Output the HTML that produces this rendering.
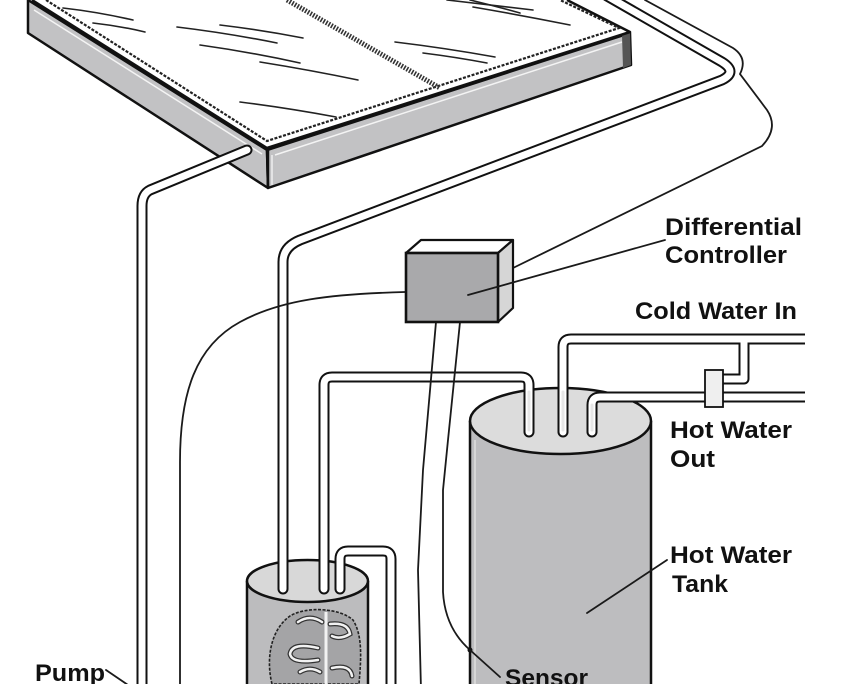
<!DOCTYPE html>
<html>
<head>
<meta charset="utf-8">
<style>
  html, body { margin: 0; padding: 0; background: #ffffff; }
  svg { display: block; }
  text { font-family: "Liberation Sans", Arial, sans-serif; font-weight: bold; fill: #111; }
</style>
</head>
<body>
<svg width="845" height="684" viewBox="0 0 845 684" xmlns="http://www.w3.org/2000/svg">
  <rect x="0" y="0" width="845" height="684" fill="#ffffff"/>

  <!-- ===== Collector panel ===== -->
  <path d="M32,0 L267,148 L630,32 L567,0 Z" fill="#ffffff" stroke="none"/>
  <path d="M28,0 L267,150 L268,188 L28,33 Z" fill="#c2c2c4" stroke="#111" stroke-width="2.5" stroke-linejoin="round"/>
  <line x1="34" y1="10" x2="262" y2="154" stroke="#f4f4f4" stroke-width="1.5"/>
  <path d="M267,150 L630,33 L631,65 L268,188 Z" fill="#c2c2c4" stroke="#111" stroke-width="2.5" stroke-linejoin="round"/>
  <line x1="275" y1="155" x2="622" y2="42" stroke="#f4f4f4" stroke-width="1.5"/>
  <path d="M622,35 L630,32 L631,65 L623,68 Z" fill="#555"/>
  <line x1="268" y1="150" x2="268" y2="188" stroke="#111" stroke-width="2.5"/>
  <line x1="272" y1="155" x2="272" y2="185" stroke="#eee" stroke-width="1.5"/>
  <path d="M32,0 L267,148 L630,32 L567,0" fill="none" stroke="#111" stroke-width="2.5" stroke-linejoin="round"/>
  <path d="M46,0 L267,141 L619,28 L560,0" fill="none" stroke="#222" stroke-width="2.2" stroke-dasharray="3 1.5"/>
  <line x1="287" y1="0" x2="440" y2="88" stroke="#333" stroke-width="5" stroke-dasharray="1.6 1.4"/>
  <g stroke="#222" stroke-width="1.6" fill="none" stroke-linecap="round">
    <path d="M63,8 Q98,12 133,20"/>
    <path d="M93,23 Q120,26 145,32"/>
    <path d="M177,27 Q227,33 277,43"/>
    <path d="M220,25 Q262,30 303,38"/>
    <path d="M200,45 Q250,52 300,63"/>
    <path d="M260,62 Q310,70 358,80"/>
    <path d="M240,102 Q288,108 336,117"/>
    <path d="M395,42 Q445,48 495,57"/>
    <path d="M423,53 Q455,57 487,63"/>
    <path d="M447,0 Q490,5 533,10"/>
    <path d="M473,7 Q520,15 570,25"/>
    <path d="M470,0 Q495,6 520,13"/>
  </g>

  <!-- ===== Large hot water tank ===== -->
  <path d="M470,421 L470,684 L651,684 L651,421 Z" fill="#bdbdbf" stroke="none"/>
  <line x1="470" y1="421" x2="470" y2="684" stroke="#111" stroke-width="2.5"/>
  <line x1="651" y1="421" x2="651" y2="684" stroke="#111" stroke-width="2.5"/>
  <line x1="475" y1="440" x2="475" y2="684" stroke="#d6d6d6" stroke-width="2"/>
  <ellipse cx="560.5" cy="421" rx="90.5" ry="33" fill="#dcdcdc" stroke="#111" stroke-width="2.5"/>

  <!-- ===== Small tank ===== -->
  <path d="M247,581 L247,684 L368,684 L368,581 Z" fill="#bcbcbe"/>
  <line x1="247" y1="581" x2="247" y2="684" stroke="#111" stroke-width="2.5"/>
  <line x1="368" y1="581" x2="368" y2="684" stroke="#111" stroke-width="2.5"/>
  <path d="M272,684 C266,660 270,630 290,616 C306,606 340,608 353,620 C363,636 361,660 359,684 Z" fill="#a4a4a6" stroke="#222" stroke-width="1.6" stroke-dasharray="3 1.5"/>
  <line x1="326" y1="612" x2="326" y2="684" stroke="#f2f2f2" stroke-width="3"/>
  <g fill="none" stroke-linecap="round">
    <g stroke="#333" stroke-width="5">
      <path d="M298,622 Q310,614 322,622"/>
      <path d="M330,624 Q348,622 350,634 Q340,640 332,636"/>
      <path d="M318,648 Q292,642 290,654 Q292,664 318,660"/>
      <path d="M332,668 Q350,664 352,676"/>
      <path d="M300,672 Q310,666 320,672"/>
    </g>
    <g stroke="#f2f2f2" stroke-width="2.5">
      <path d="M298,622 Q310,614 322,622"/>
      <path d="M330,624 Q348,622 350,634 Q340,640 332,636"/>
      <path d="M318,648 Q292,642 290,654 Q292,664 318,660"/>
      <path d="M332,668 Q350,664 352,676"/>
      <path d="M300,672 Q310,666 320,672"/>
    </g>
  </g>
  <ellipse cx="307.5" cy="581" rx="60.5" ry="21" fill="#d8d8d8" stroke="#111" stroke-width="2.5"/>

  <!-- ===== Pipes (outline pass) ===== -->
  <g fill="none" stroke="#111" stroke-width="11" stroke-linecap="round" stroke-linejoin="round">
    <path d="M247,150 L150,190 Q142,194 142,206 L142,690"/>
    <path d="M607,-4 L722,62 Q738,72 722,80 L300,240 Q283,247 283,262 L283,589"/>
    <path d="M324,589 L324,385 Q324,377 332,377 L521,377 Q529,377 529,385 L529,432"/>
    <path d="M744,339 L744,379 L718,379"/>
    <path d="M340,589 L340,559 Q340,551 348,551 L383,551 Q391,551 391,559 L391,690"/>
  </g>
  <g fill="none" stroke="#111" stroke-width="11" stroke-linecap="butt" stroke-linejoin="round">
    <path d="M563,432 L563,347 Q563,339 571,339 L805,339"/>
    <path d="M592,432 L592,405 Q592,397 600,397 L805,397"/>
  </g>
  <g fill="#111">
    <circle cx="563" cy="432" r="5.5"/>
    <circle cx="592" cy="432" r="5.5"/>
  </g>
  <!-- ===== Pipes (interior pass) ===== -->
  <g fill="none" stroke="#ffffff" stroke-width="7" stroke-linecap="round" stroke-linejoin="round">
    <path d="M247,150 L150,190 Q142,194 142,206 L142,690"/>
    <path d="M607,-4 L722,62 Q738,72 722,80 L300,240 Q283,247 283,262 L283,589"/>
    <path d="M324,589 L324,385 Q324,377 332,377 L521,377 Q529,377 529,385 L529,432"/>
    <path d="M744,339 L744,379 L718,379"/>
    <path d="M340,589 L340,559 Q340,551 348,551 L383,551 Q391,551 391,559 L391,690"/>
  </g>
  <g fill="none" stroke="#ffffff" stroke-width="7" stroke-linecap="butt" stroke-linejoin="round">
    <path d="M563,432 L563,347 Q563,339 571,339 L806,339"/>
    <path d="M592,432 L592,405 Q592,397 600,397 L806,397"/>
    <path d="M744,339 L744,350"/>
  </g>
  <g fill="#ffffff">
    <circle cx="563" cy="432" r="3.5"/>
    <circle cx="592" cy="432" r="3.5"/>
  </g>
  <g stroke="#e6e6e6" stroke-width="3" stroke-linecap="round">
    <line x1="529" y1="392" x2="529" y2="430"/>
    <line x1="563" y1="392" x2="563" y2="430"/>
    <line x1="592" y1="405" x2="592" y2="430"/>
  </g>

  <!-- valve -->
  <rect x="705" y="370" width="18" height="37" fill="#efefef" stroke="#111" stroke-width="1.8"/>

  <!-- ===== Wires ===== -->
  <g fill="none" stroke="#1a1a1a" stroke-width="1.8" stroke-linecap="round">
    <path d="M645,0 L733,48 Q748,58 740,74 L767,110 Q779,128 762,146 L513,268"/>
    <path d="M405,292 C330,294 280,300 240,322 C196,346 180,392 180,462 L180,690"/>
    <path d="M436,322 L423,470 L418,570 L421,690"/>
    <path d="M460,322 L448,440 L443,490 L443,592 Q445,628 470,650"/>
  </g>
  <circle cx="470" cy="650" r="2.5" fill="#111"/>

  <!-- ===== Differential controller box ===== -->
  <path d="M406,253 L421,240 L513,240 L498,253 Z" fill="#ffffff" stroke="#111" stroke-width="2.2" stroke-linejoin="round"/>
  <path d="M498,253 L513,240 L513,308 L498,322 Z" fill="#d6d6d6" stroke="#111" stroke-width="2.2" stroke-linejoin="round"/>
  <rect x="406" y="253" width="92" height="69" fill="#a9a9ab" stroke="#111" stroke-width="2.6"/>

  <!-- ===== Leader lines ===== -->
  <g stroke="#1a1a1a" stroke-width="1.8" stroke-linecap="round">
    <line x1="665" y1="240" x2="468" y2="295"/>
    <line x1="587" y1="613" x2="667" y2="560"/>
    <line x1="470" y1="650" x2="500" y2="677"/>
    <line x1="106" y1="670" x2="128" y2="685"/>
  </g>

  <!-- ===== Labels ===== -->
  <g font-size="24">
    <text x="665" y="235" textLength="137" lengthAdjust="spacingAndGlyphs">Differential</text>
    <text x="665" y="263" textLength="122" lengthAdjust="spacingAndGlyphs">Controller</text>
    <text x="635" y="319" textLength="162" lengthAdjust="spacingAndGlyphs">Cold Water In</text>
    <text x="670" y="438" textLength="122" lengthAdjust="spacingAndGlyphs">Hot Water</text>
    <text x="670" y="467" textLength="45" lengthAdjust="spacingAndGlyphs">Out</text>
    <text x="670" y="563" textLength="122" lengthAdjust="spacingAndGlyphs">Hot Water</text>
    <text x="672" y="592" textLength="56" lengthAdjust="spacingAndGlyphs">Tank</text>
    <text x="505" y="686" textLength="83" lengthAdjust="spacingAndGlyphs">Sensor</text>
    <text x="35" y="681" textLength="70" lengthAdjust="spacingAndGlyphs">Pump</text>
  </g>
</svg>
</body>
</html>
